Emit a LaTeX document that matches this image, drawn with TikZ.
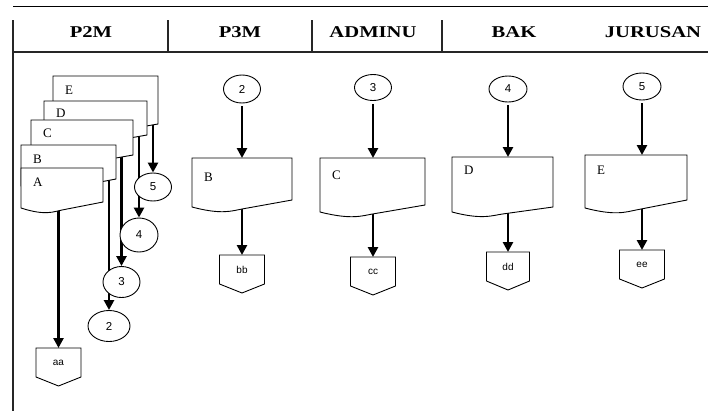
\documentclass[tikz,border=0pt]{standalone}
\usepackage{fontspec}
\setmainfont{Liberation Serif}
\newfontfamily\hdrfont[FakeStretch=1.25]{Liberation Serif}
\newfontfamily\lblsans{Liberation Sans}
\usetikzlibrary{arrows.meta,shapes.geometric,backgrounds}

\tikzset{
  frameline/.style={line width=1.2bp, black!85},
  shapeline/.style={draw=black, fill=white, line width=0.9bp},
  arr/.style={line width=2.6bp, -{Triangle[length=10bp,width=10bp]}},
  conn/.style={ellipse, draw, fill=white, line width=0.9bp, inner sep=0pt,
    font=\lblsans\fontsize{11.5bp}{13bp}\selectfont},
  docarea/.style={rectangle, inner sep=0pt, outer sep=0pt},
  doclabel/.style={anchor=west, inner sep=0pt, font=\fontsize{13bp}{15bp}\selectfont},
  outarea/.style={rectangle, inner sep=0pt, outer sep=0pt, minimum height=29bp,
    font=\lblsans\fontsize{10bp}{12bp}\selectfont},
  lanehead/.style={inner sep=0pt, font=\hdrfont\bfseries\fontsize{16.5bp}{18bp}\selectfont},
}

% document symbol: name, left x, top y, width, right height, left height, label, label dy
\newcommand\docshape[8]{%
  \node[docarea, minimum width=#4bp, minimum height=#5bp, anchor=north west] (#1) at (#2,#3) {};
  \filldraw[shapeline] (#2,#3) -- ({#2+#4},#3) -- ({#2+#4},{#3+#5})
    -- ({#2+0.5*#4},{#3+#6+2})
    .. controls ({#2+0.4*#4},{#3+#6+2+0.2*(#6+2-#5)}) and ({#2+0.3*#4},{#3+#6+8}) .. (#2,{#3+#6})
    -- cycle;
  \node[doclabel] (#1-lbl) at ({#2+12},{#3+#8}) {#7};
}

% off-page connector: name, centre x, top y, width, label
\newcommand\offpage[5]{%
  \node[outarea, minimum width=#4bp, anchor=north] (#1) at (#2,#3) {#5};
  \draw[line width=0.9bp] (#1.north west) -- (#1.north east) -- (#1.south east)
    -- ([yshift=-9bp]#1.south) -- (#1.south west) -- cycle;
}

\begin{document}
\begin{tikzpicture}[x=1bp,y=-1bp]
\useasboundingbox (0,0) rectangle (708,411);

% lane frame
\coordinate (tl) at (13,6);
\coordinate (tr) at (708,6);
\coordinate (hl) at (13,52);
\coordinate (hr) at (708,52);
\coordinate (lt) at (13,20);
\coordinate (lb) at (13,411);
\draw[line width=1bp] (tl) -- (tr);
\draw[frameline] (hl) -- (hr);
\draw[frameline] (lt) -- (lb);
\foreach \sx/\nm in {168/s1, 312/s2, 442/s3}{
  \coordinate (\nm t) at (\sx,20);
  \coordinate (\nm b) at (\sx,52);
  \draw[frameline] (\nm t) -- (\nm b);
}

% lane titles
\node[lanehead] (h1) at (91,32) {P2M};
\node[lanehead] (h2) at (240,32) {P3M};
\node[lanehead] (h3) at (373,32) {ADMINU};
\node[lanehead] (h4) at (514,32) {BAK};
\node[lanehead] (h5) at (653,32) {JURUSAN};

% connector circles
\node[conn, minimum width=37bp, minimum height=28bp] (l5) at (153,187) {5};
\node[conn, minimum width=38bp, minimum height=34bp] (l4) at (139,235) {4};
\node[conn, minimum width=37bp, minimum height=31bp] (l3) at (121.5,282) {3};
\node[conn, minimum width=42bp, minimum height=31bp] (l2) at (109,326) {2};
\node[conn, minimum width=37bp, minimum height=28bp] (r2) at (242,89) {2};
\node[conn, minimum width=37bp, minimum height=26bp] (r3) at (373,87.5) {3};
\node[conn, minimum width=38bp, minimum height=26bp] (r4) at (508,89) {4};
\node[conn, minimum width=38bp, minimum height=27bp] (r5) at (642,86.5) {5};

% off-page outputs
\offpage{oA}{58.5}{348}{45}{aa}
\offpage{oB}{242}{255}{45}{bb}
\offpage{oC}{373}{257}{45}{cc}
\offpage{oD}{508}{252}{43}{dd}
\offpage{oE}{642}{250}{45}{ee}

% stacked documents in P2M, back to front
\docshape{sE}{53}{76}{105}{48}{55}{E}{14}
\docshape{sD}{44}{101}{103}{34}{41}{D}{12}
\docshape{sC}{31}{120}{102}{35}{42}{C}{13}
\docshape{sB}{21}{145}{95}{34}{41}{B}{14}
\docshape{sA}{21}{168}{82}{34}{40}{A}{14}

% documents in the other lanes
\docshape{pB}{192}{158}{100}{42}{49}{B}{19}
\docshape{pC}{320}{158}{105}{47}{54}{C}{17}
\docshape{pD}{452}{157}{101}{50}{55}{D}{13}
\docshape{pE}{585}{155}{102}{45}{53}{E}{15}

% flows, kept beneath the symbols
\begin{pgfonlayer}{background}
\draw[arr] (l5.north |- sE.south) -- (l5.north);
\draw[arr] (l4.north |- sD.south) -- (l4.north);
\draw[arr] (l3.north |- sC.south) -- (l3.north);
\draw[arr] (l2.north |- sB.south) -- (l2.north);
\draw[arr] (oA.north |- sA.south) -- (oA.north);
\foreach \c/\d/\o in {r2/pB/oB, r3/pC/oC, r4/pD/oD, r5/pE/oE}{
  \draw[arr, shorten <=3bp] (\c.south) -- (\c.south |- \d.north);
  \draw[arr] (\d.south -| \o.north) -- (\o.north);
}
\end{pgfonlayer}
\end{tikzpicture}
\end{document}
